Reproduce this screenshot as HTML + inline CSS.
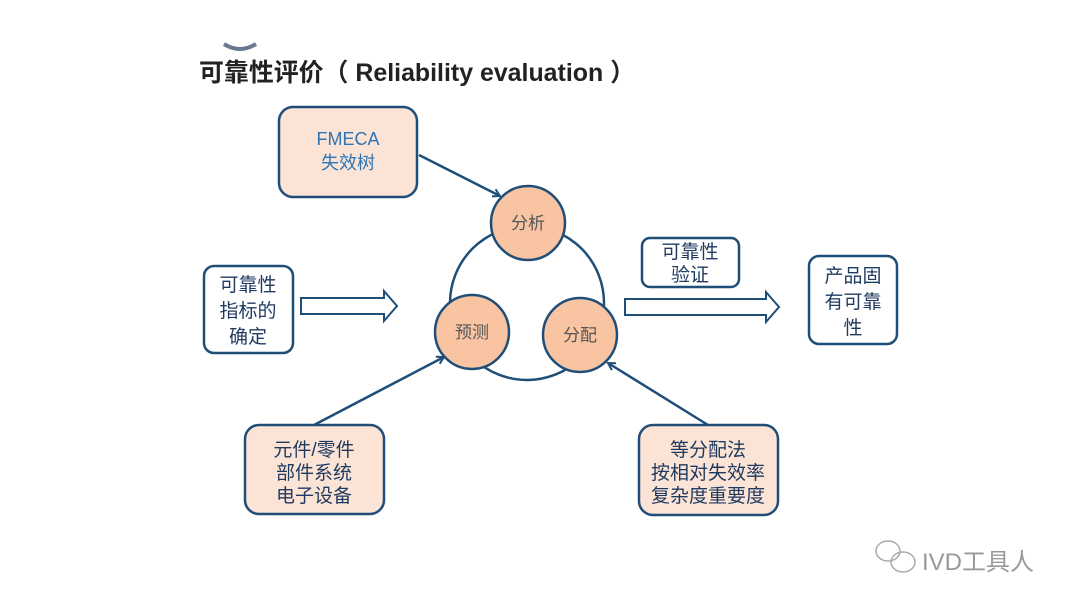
<!DOCTYPE html>
<html><head><meta charset="utf-8"><style>
body{margin:0;background:#fff;width:1080px;height:608px;overflow:hidden;font-family:"Liberation Sans","Noto Sans CJK SC",sans-serif}
svg text{font-family:"Liberation Sans","Noto Sans CJK SC",sans-serif}
</style></head><body>
<svg width="1080" height="608" viewBox="0 0 1080 608">
<defs><marker id="a" markerWidth="10" markerHeight="10" refX="8" refY="5" orient="auto" markerUnits="userSpaceOnUse"><path d="M1,1 L8,5 L1,9" fill="none" stroke="#1f4e79" stroke-width="2"/></marker></defs>
<path d="M224,44 Q240,54 256,44" fill="none" stroke="#6a7890" stroke-width="4"/>
<text x="199" y="81" font-size="25" font-weight="bold" fill="#222" textLength="436" lengthAdjust="spacingAndGlyphs">可靠性评价（ Reliability evaluation ）</text>
<g stroke="#1f4e79" stroke-width="2.5">
<rect x="279" y="107" width="138" height="90" rx="14" fill="#fbe3d5"/>
<rect x="245" y="425" width="139" height="89" rx="14" fill="#fbe3d5"/>
<rect x="639" y="425" width="139" height="90" rx="14" fill="#fbe3d5"/>
<rect x="204" y="266" width="89" height="87" rx="10" fill="#fff"/>
<rect x="642" y="238" width="97" height="49" rx="8" fill="#fff"/>
<rect x="809" y="256" width="88" height="88" rx="10" fill="#fff"/>
<circle cx="527" cy="303" r="77" fill="none"/>
<circle cx="528" cy="223" r="37" fill="#f8c4a2"/>
<circle cx="472" cy="332" r="37" fill="#f8c4a2"/>
<circle cx="580" cy="335" r="37" fill="#f8c4a2"/>
<path d="M301,298 H384 V291 L397,306 L384,321 V314 H301 Z" fill="#fff" stroke-width="2"/>
<path d="M625,299 H766 V292 L779,307 L766,322 V315 H625 Z" fill="#fff" stroke-width="2"/>
<line x1="419" y1="155" x2="500" y2="196" marker-end="url(#a)"/>
<line x1="314" y1="425" x2="444" y2="357" marker-end="url(#a)"/>
<line x1="708" y1="425" x2="608" y2="363" marker-end="url(#a)"/>
</g>
<g fill="#2e75b6" font-size="18" text-anchor="middle">
<text x="348" y="145">FMECA</text><text x="348" y="169">失效树</text>
</g>
<g fill="#555" font-size="17" text-anchor="middle">
<text x="528" y="229">分析</text><text x="472" y="338">预测</text><text x="580" y="341">分配</text>
</g>
<g fill="#1f3a5f" font-size="19" text-anchor="middle">
<text x="248" y="291">可靠性</text><text x="248" y="317">指标的</text><text x="248" y="343">确定</text>
<text x="690" y="258">可靠性</text><text x="690" y="281">验证</text>
<text x="853" y="282">产品固</text><text x="853" y="308">有可靠</text><text x="853" y="334">性</text>
<text x="314" y="456">元件/零件</text><text x="314" y="479">部件系统</text><text x="314" y="502">电子设备</text>
<text x="708" y="456">等分配法</text><text x="708" y="479">按相对失效率</text><text x="708" y="502">复杂度重要度</text>
</g>
<g fill="none" stroke="#aaa" stroke-width="1.5"><ellipse cx="888" cy="551" rx="12" ry="10"/><ellipse cx="903" cy="562" rx="12" ry="10"/></g>
<text x="922" y="570" font-size="24" fill="#999">IVD工具人</text>
</svg>
</body></html>
